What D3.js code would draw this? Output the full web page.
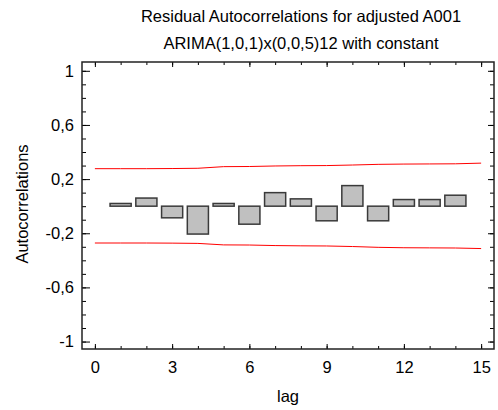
<!DOCTYPE html>
<html lang="en">
<head>
	<meta charset="UTF-8">
	<title>Residual Autocorrelations</title>
	<script src="https://d3js.org/d3.v7.min.js"></script>
	<style>
		body{ margin:0; background:white; }
		svg{ display:block; }
		text{ font-family:"Liberation Sans", Arial, sans-serif; fill:#000; }
		.tick line{ stroke:#000; }
		.bar{ fill:#c0c0c0; stroke:#3a3a3a; stroke-width:1.5; }
		.limit{ fill:none; stroke:#ff0000; stroke-width:1; }
	</style>
</head>
<body>
	<svg width="498" height="410"></svg>
	<script>
		// residual autocorrelations, lag 1..14
		var lags = [1,2,3,4,5,6,7,8,9,10,11,12,13,14];
		var acf = [0.02,0.06,-0.086,-0.206,0.02,-0.133,0.10,0.054,-0.108,0.152,-0.108,0.049,0.049,0.081];
		// 95% probability limits, lag 0..15
		var limitLags = [0,1,2,3,4,5,6,7,8,9,10,11,12,13,14,15];
		var upper = [0.277,0.277,0.277,0.278,0.280,0.292,0.293,0.297,0.299,0.300,0.304,0.309,0.311,0.312,0.313,0.318];
		var lower = [-0.272,-0.272,-0.272,-0.273,-0.275,-0.286,-0.287,-0.291,-0.293,-0.294,-0.298,-0.304,-0.307,-0.308,-0.309,-0.313];
		var xTicks = [0,3,6,9,12,15];
		var yTicks = [-1,-0.6,-0.2,0.2,0.6,1];
		var yTickLabels = ["-1","-0,6","-0,2","0,2","0,6","1"];
		var titles = ["Residual Autocorrelations for adjusted A001","ARIMA(1,0,1)x(0,0,5)12 with constant"];

		var svg = d3.select("svg");
		var pLeft = 82, pRight = 494, pTop = 62, pBottom = 349;
		var fs = 16.5;

		var x = d3.scaleLinear().domain([-0.5,15.5]).range([pLeft,pRight]);
		var y = d3.scaleLinear().domain([-1.055,1.065]).range([pBottom,pTop]);

		// minor ticks
		var xMinor = d3.range(0,16);
		var yMinor = d3.range(-10,11).map(function(d){ return d/10; });

		function noDomain(g){ g.select(".domain").remove(); }

		svg.append("g").attr("transform","translate(0,"+pBottom+")")
			.call(d3.axisBottom(x).tickValues(xMinor).tickSize(-3).tickFormat("")).call(noDomain);
		svg.append("g").attr("transform","translate(0,"+pTop+")")
			.call(d3.axisTop(x).tickValues(xMinor).tickSize(-3).tickFormat("")).call(noDomain);
		svg.append("g").attr("transform","translate("+pLeft+",0)")
			.call(d3.axisLeft(y).tickValues(yMinor).tickSize(-4).tickFormat("")).call(noDomain);
		svg.append("g").attr("transform","translate("+pRight+",0)")
			.call(d3.axisRight(y).tickValues(yMinor).tickSize(-4).tickFormat("")).call(noDomain);

		// major ticks
		svg.append("g").attr("transform","translate(0,"+pBottom+")")
			.call(d3.axisBottom(x).tickValues(xTicks).tickSize(-5).tickPadding(12))
			.call(noDomain)
			.selectAll("text").attr("font-size",fs)
			.style("font-family","Liberation Sans, Arial, sans-serif");
		svg.append("g").attr("transform","translate(0,"+pTop+")")
			.call(d3.axisTop(x).tickValues(xTicks).tickSize(-5).tickFormat("")).call(noDomain);
		svg.append("g").attr("transform","translate("+pLeft+",0)")
			.call(d3.axisLeft(y).tickValues(yTicks).tickSize(-8).tickPadding(8)
				.tickFormat(function(d,i){ return yTickLabels[i]; }))
			.call(noDomain)
			.selectAll("text").attr("font-size",fs)
			.style("font-family","Liberation Sans, Arial, sans-serif");
		svg.append("g").attr("transform","translate("+pRight+",0)")
			.call(d3.axisRight(y).tickValues(yTicks).tickSize(-6).tickFormat("")).call(noDomain);

		// bars
		var bw = 0.82;
		svg.append("g").selectAll("rect").data(lags).enter().append("rect")
			.attr("class","bar")
			.attr("x",function(d){ return x(d-bw/2); })
			.attr("width",x(bw)-x(0))
			.attr("y",function(d,i){ return y(Math.max(0,acf[i])); })
			.attr("height",function(d,i){ return Math.abs(y(acf[i])-y(0)); });

		// limits
		var line = d3.line().x(function(d){ return x(d[0]); }).y(function(d){ return y(d[1]); });
		svg.append("path").attr("class","limit")
			.attr("d",line(limitLags.map(function(d,i){ return [d,upper[i]]; })));
		svg.append("path").attr("class","limit")
			.attr("d",line(limitLags.map(function(d,i){ return [d,lower[i]]; })));

		// frame
		svg.append("rect").attr("x",pLeft).attr("y",pTop)
			.attr("width",pRight-pLeft).attr("height",pBottom-pTop)
			.attr("fill","none").attr("stroke","#222").attr("stroke-width",1.5);

		// titles
		svg.selectAll(".title").data(titles).enter().append("text")
			.attr("class","title")
			.attr("x",301).attr("y",function(d,i){ return 22+i*27; })
			.attr("text-anchor","middle").attr("font-size",fs)
			.text(function(d){ return d; });

		svg.append("text").attr("x",288).attr("y",402)
			.attr("text-anchor","middle").attr("font-size",fs).text("lag");
		svg.append("text").attr("transform","translate(28,204) rotate(-90)")
			.attr("text-anchor","middle").attr("font-size",fs).text("Autocorrelations");
	</script>
</body>
</html>
